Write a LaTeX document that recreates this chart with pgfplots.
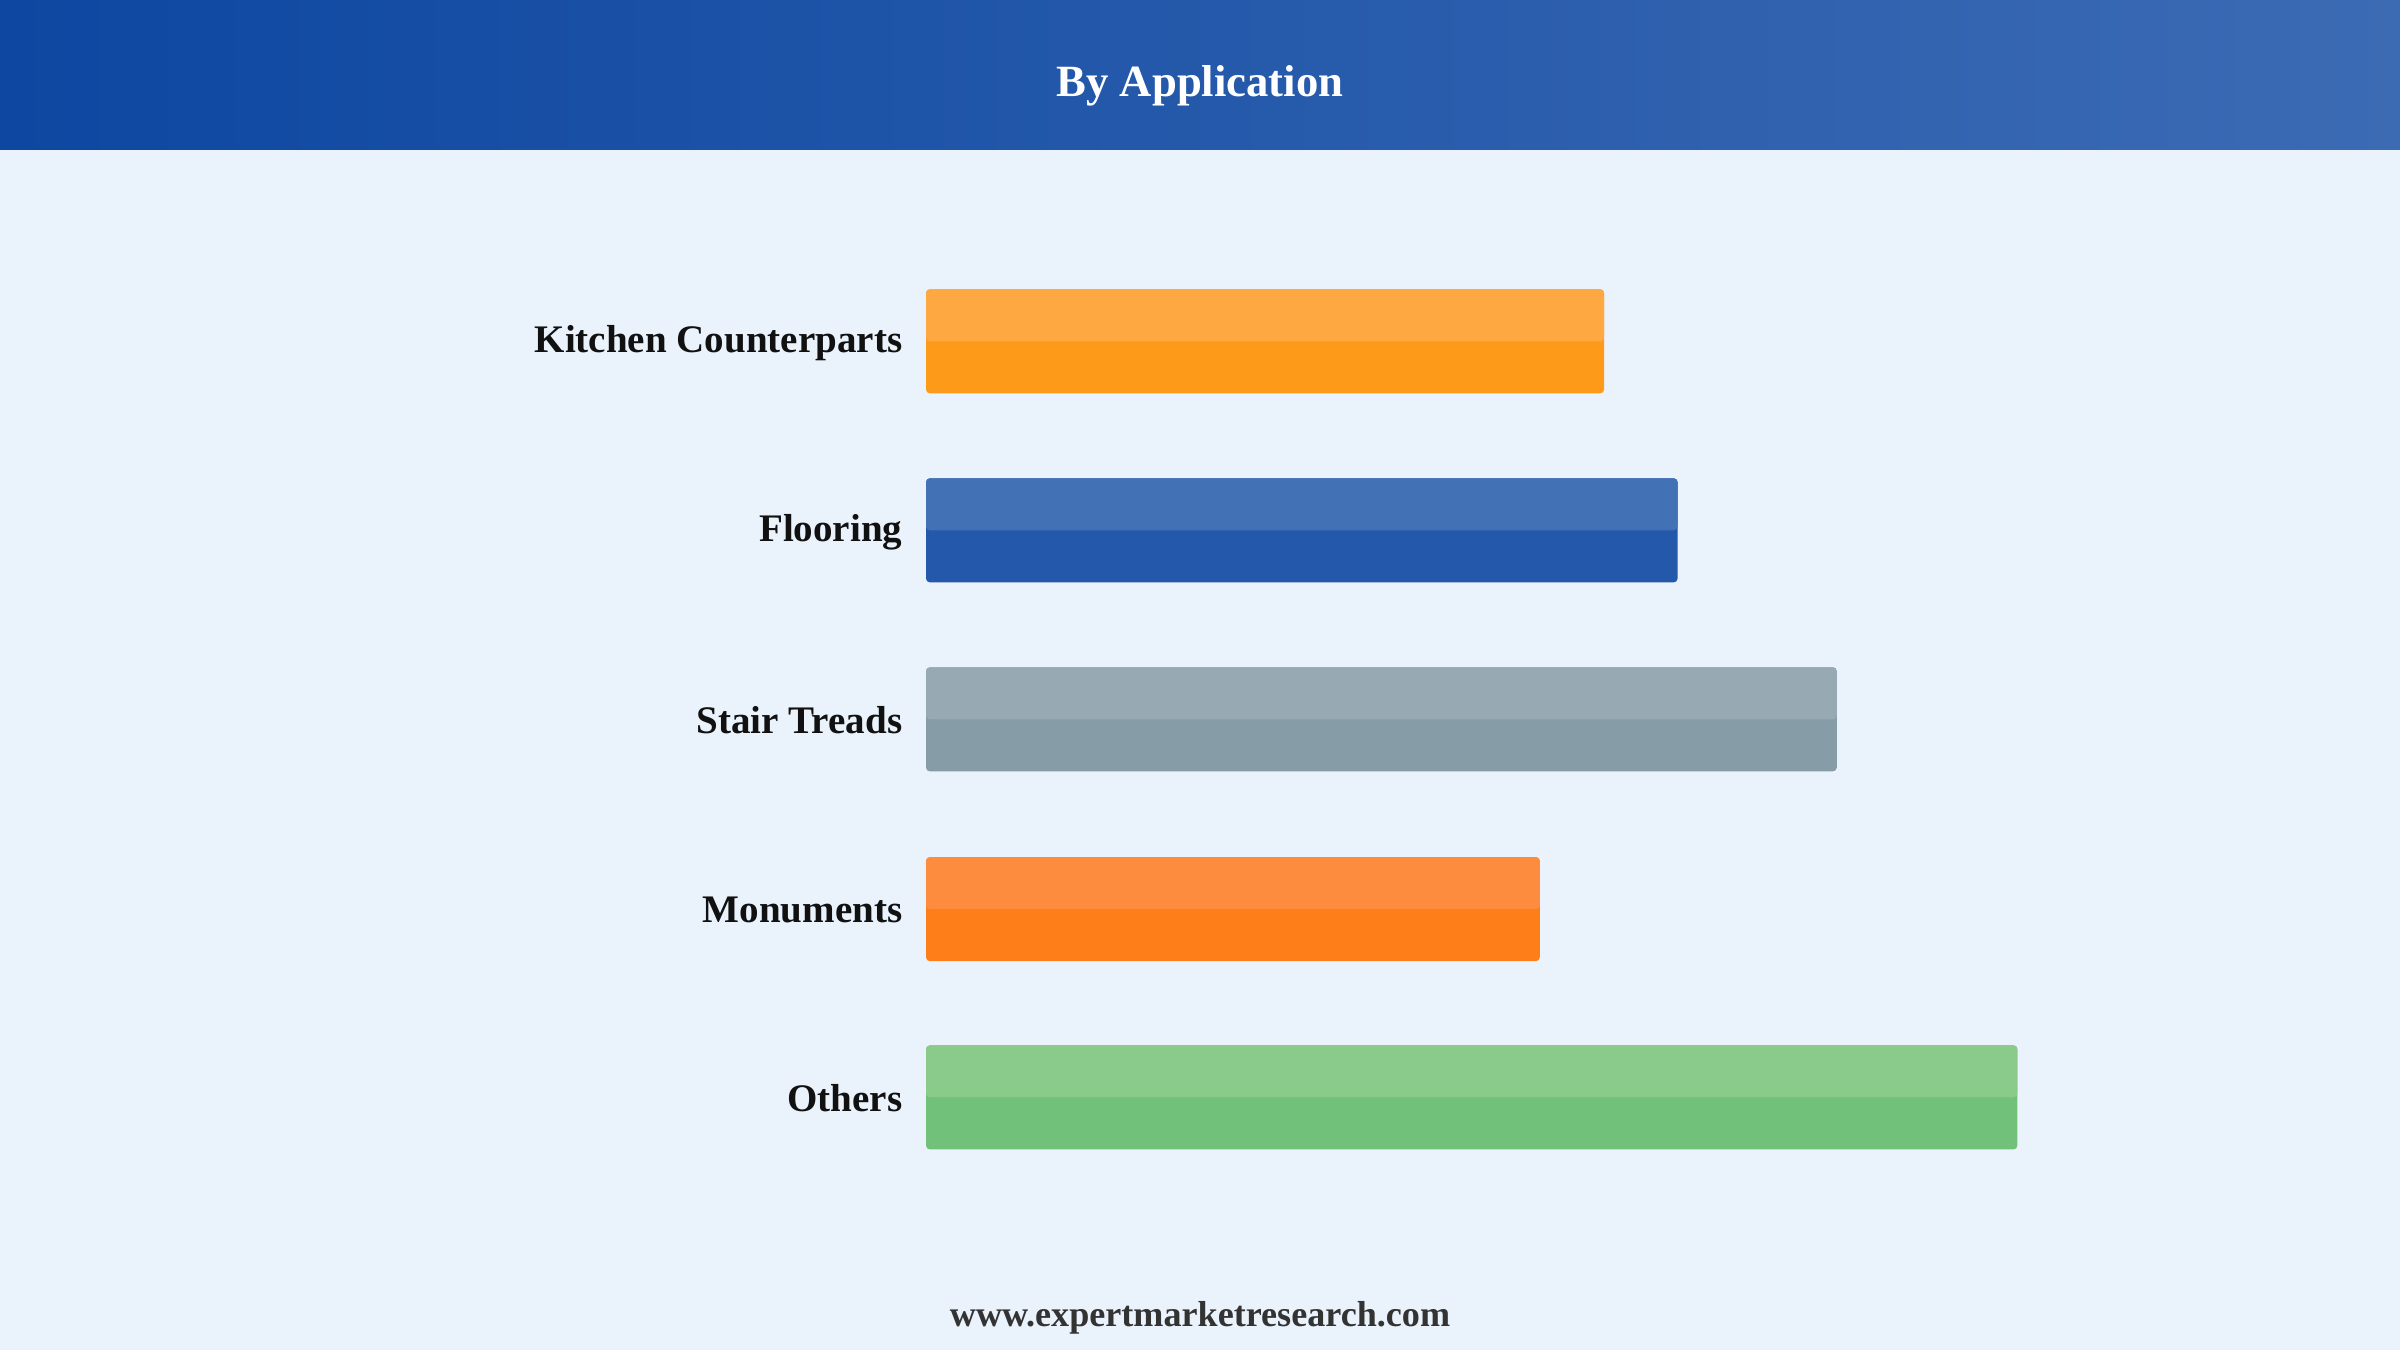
\documentclass[border=0pt]{standalone}
\usepackage{pgfplots}
\pgfplotsset{compat=1.18}
\usepackage{fontspec}
\setmainfont{Liberation Serif}
\definecolor{bg}{HTML}{EAF2FC}
\definecolor{hdL}{HTML}{0D47A1}
\definecolor{hdR}{HTML}{3C6BB4}
\definecolor{kB}{HTML}{FD9A1A}
\definecolor{kT}{HTML}{FEA841}
\definecolor{fB}{HTML}{2358AA}
\definecolor{fT}{HTML}{4271B5}
\definecolor{sB}{HTML}{869CA6}
\definecolor{sT}{HTML}{97A9B2}
\definecolor{mB}{HTML}{FE7E1A}
\definecolor{mT}{HTML}{FE8C3F}
\definecolor{oB}{HTML}{72C17A}
\definecolor{oT}{HTML}{8ACA8A}
\definecolor{lab}{HTML}{111111}
\definecolor{foot}{HTML}{333333}
\begin{document}
\begin{tikzpicture}
\begin{axis}[
  scale only axis, width=1568pt, height=882pt,
  xmin=-605, xmax=963, ymin=0, ymax=882, y dir=reverse,
  hide axis, clip=false,
  every axis plot/.append style={xbar, bar shift=0pt, draw=none, rounded corners=2.5pt},
]
\fill[bg] (axis cs:-605,0) rectangle (axis cs:963,882);
\fill[left color=hdL, right color=hdR] (axis cs:-605,0) rectangle (axis cs:963,98);
\node[white, font=\bfseries\fontsize{29.2}{32}\selectfont] at (axis cs:179,56) {By Application};
% bars: base
\addplot[fill=kB, bar width=68] coordinates {(443,223)};
\addplot[fill=kT, bar width=34] coordinates {(443,206)};
\addplot[fill=fB, bar width=68] coordinates {(491,346.5)};
\addplot[fill=fT, bar width=34] coordinates {(491,329.5)};
\addplot[fill=sB, bar width=68] coordinates {(595,470)};
\addplot[fill=sT, bar width=34] coordinates {(595,453)};
\addplot[fill=mB, bar width=68] coordinates {(401,594)};
\addplot[fill=mT, bar width=34] coordinates {(401,577)};
\addplot[fill=oB, bar width=68] coordinates {(713,717)};
\addplot[fill=oT, bar width=34] coordinates {(713,700)};
\tikzset{lbl/.style={anchor=east, text=lab, font=\bfseries\fontsize{25.5}{28}\selectfont}}
\node[lbl] at (axis cs:-12,224.5) {Kitchen Counterparts};
\node[lbl] at (axis cs:-12,348) {Flooring};
\node[lbl] at (axis cs:-12,470.5) {Stair Treads};
\node[lbl] at (axis cs:-12,594.5) {Monuments};
\node[lbl] at (axis cs:-12,717.5) {Others};
\node[text=foot, font=\bfseries\fontsize{23.6}{26}\selectfont] at (axis cs:179,861) {www.expertmarketresearch.com};
\end{axis}
\end{tikzpicture}
\end{document}
